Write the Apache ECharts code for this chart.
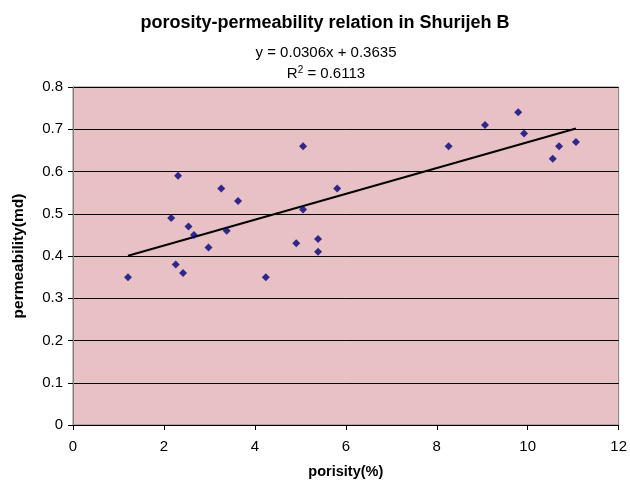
<!DOCTYPE html>
<html>
<head>
<meta charset="utf-8">
<script src="https://cdn.jsdelivr.net/npm/echarts@6/dist/echarts.min.js"></script>
<style>html,body{margin:0;padding:0;background:#fff}#c{width:630px;height:484px}</style>
</head>
<body>
<div id="c"></div>
<script>
const porosity = [1.21, 2.16, 2.31, 2.26, 2.42, 2.54, 2.66, 2.98, 3.26, 3.38, 3.63, 4.24, 4.91, 5.06, 5.06, 5.39, 5.39, 5.81, 8.26, 9.06, 9.79, 9.92, 10.55, 10.69, 11.06];
const permeability = [0.35, 0.49, 0.59, 0.38, 0.36, 0.47, 0.45, 0.42, 0.56, 0.46, 0.53, 0.35, 0.43, 0.66, 0.51, 0.44, 0.41, 0.56, 0.66, 0.71, 0.74, 0.69, 0.63, 0.66, 0.67];
const trendSlope = 0.0306;
const trendIntercept = 0.3635;
const rSquared = 0.6113;
const xTicks = [0, 2, 4, 6, 8, 10, 12];
const yTicks = [0, 0.1, 0.2, 0.3, 0.4, 0.5, 0.6, 0.7, 0.8];

const points = porosity.map((x, i) => [x, permeability[i]]);
const xMin = Math.min(...porosity), xMax = Math.max(...porosity);
const trend = [[xMin, trendSlope * xMin + trendIntercept], [xMax, trendSlope * xMax + trendIntercept]];

const font = 'Liberation Sans, Arial, sans-serif';
const chart = echarts.init(document.getElementById('c'), null, {renderer: 'canvas'});
chart.setOption({
  backgroundColor: '#ffffff',
  animation: false,
  title: [
    {text: 'porosity-permeability relation in Shurijeh B', left: 320, top: 9, textAlign: 'center',
     textStyle: {fontFamily: font, fontSize: 18, fontWeight: 'bold', color: '#000'}},
    {text: 'y = ' + trendSlope + 'x + ' + trendIntercept, left: 321, top: 40, textAlign: 'center',
     textStyle: {fontFamily: font, fontSize: 15, fontWeight: 'normal', color: '#000'}},
    {text: 'R{sup|2} = ' + rSquared, left: 321, top: 60, textAlign: 'center',
     textStyle: {fontFamily: font, fontSize: 15, fontWeight: 'normal', color: '#000',
       rich: {sup: {fontSize: 10, verticalAlign: 'top', padding: [0, 0, 7, 0], fontFamily: font}}}}
  ],
  grid: {left: 73, right: 9, top: 87, bottom: 57, show: true, backgroundColor: '#e7c1c4', borderColor: '#808080', borderWidth: 1},
  xAxis: {
    type: 'value', min: 0, max: 12, interval: 2,
    name: 'porisity(%)', nameLocation: 'middle', nameGap: 39,
    nameTextStyle: {fontFamily: font, fontSize: 14.5, fontWeight: 'bold', color: '#000'},
    axisLine: {show: true, onZero: false, lineStyle: {color: '#000', width: 1}},
    axisTick: {show: true, inside: false, length: 5, lineStyle: {color: '#000'}},
    axisLabel: {fontFamily: font, fontSize: 15, color: '#000', margin: 14},
    splitLine: {show: false}
  },
  yAxis: {
    type: 'value', min: 0, max: 0.8, interval: 0.1,
    name: 'permeability(md)', nameLocation: 'middle', nameGap: 46, nameRotate: 90,
    nameTextStyle: {fontFamily: font, fontSize: 15.5, fontWeight: 'bold', color: '#000'},
    axisLine: {show: true, onZero: false, lineStyle: {color: '#808080', width: 1}},
    axisTick: {show: true, inside: false, length: 5, lineStyle: {color: '#000'}},
    axisLabel: {fontFamily: font, fontSize: 15, color: '#000', margin: 10,
      formatter: v => String(Math.round(v * 10) / 10)},
    splitLine: {show: true, lineStyle: {color: '#000', width: 1}}
  },
  series: [
    {type: 'line', data: trend, showSymbol: false, symbol: 'none', lineStyle: {color: '#000', width: 2}, z: 2},
    {type: 'scatter', data: points, symbol: 'diamond', symbolSize: 8, itemStyle: {color: '#000080'}, z: 3}
  ]
});
</script>
</body>
</html>
